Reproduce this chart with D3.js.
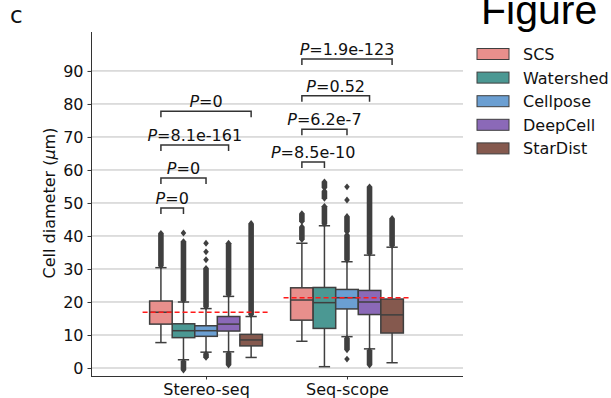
<!DOCTYPE html>
<html>
<head>
<meta charset="utf-8">
<script src="https://cdn.jsdelivr.net/npm/d3@7"></script>
<style>
  body { margin: 0; background: #fff; }
  svg { display: block; font-family: "DejaVu Sans", sans-serif; }
</style>
</head>
<body>
<div id="chart"></div>
<script>
// categories and methods
const datasets = ["Stereo-seq", "Seq-scope"];
const methods = ["SCS", "Watershed", "Cellpose", "DeepCell", "StarDist"];
const colors = ["#e88f8c", "#4b9893", "#6b9fd2", "#8b69b8", "#85594e"];
const yTicks = [0, 10, 20, 30, 40, 50, 60, 70, 80, 90];

// box stats per method: [lowWhisker, q1, median, q3, highWhisker]
const stereoBox = [
  [7.7, 13.3, 16.9, 20.3, 30.4],
  [2.5, 9.2, 11.3, 13.4, 20.0],
  [4.8, 9.6, 11.3, 12.8, 18.0],
  [4.9, 11.2, 13.3, 15.6, 21.7],
  [3.2, 6.7, 8.5, 10.2, 15.6]
];
const seqBox = [
  [8.1, 14.5, 20.6, 24.3, 37.8],
  [0.4, 12.0, 19.8, 24.4, 43.1],
  [9.5, 17.9, 21.3, 23.8, 32.2],
  [5.8, 16.2, 20.0, 23.5, 34.2],
  [1.6, 10.6, 16.1, 20.9, 36.6]
];

// dense runs of outliers [from, to] and single outliers
const stereoRuns = [
  [[30.9, 40.8]],
  [[20.5, 38.3], [-0.6, 2.0]],
  [[18.5, 30.2], [3.2, 4.3]],
  [[22.2, 37.8], [0.9, 4.4]],
  [[16.1, 43.8]]
];
const stereoPoints = [
  [],
  [40.9],
  [32.8, 35.2, 37.8],
  [],
  []
];
const seqRuns = [
  [[38.9, 42.8], [44.4, 46.8]],
  [[43.6, 49.0], [51.4, 53.6], [54.6, 56.4]],
  [[32.7, 40.3], [41.3, 45.9], [5.5, 9.0]],
  [[34.7, 54.9], [0.9, 5.3]],
  [[37.1, 45.3]]
];
const seqPoints = [
  [],
  [],
  [50.9, 54.9, 2.7],
  [],
  []
];
const means = [16.9, 21.3];

// SCS vs others: p-values and bracket heights
const stereoP = ["0", "0", "8.1e-161", "0"];
const stereoLevels = [48.5, 57.6, 67.6, 77.8];
const seqP = ["8.5e-10", "6.2e-7", "0.52", "1.9e-123"];
const seqLevels = [62.4, 72.3, 82.5, 93.6];

const W = 611, H = 398;
const svg = d3.select("#chart").append("svg").attr("width", W).attr("height", H);

const x = d3.scaleLinear().domain([-0.816, 1.823]).range([91, 463]);
const y = d3.scaleLinear().domain([-2.42, 101.8]).range([376, 32]);
const hue = d3.scaleBand().domain(methods).range([-0.4, 0.4]);
const boxW = x(hue.bandwidth()) - x(0);
const hx = (di, m) => x(di + hue(m) + hue.bandwidth() / 2);

const edge = "#3f3f3f";

// grid
svg.append("g").selectAll("line").data(yTicks).join("line")
  .attr("x1", 91).attr("x2", 463)
  .attr("y1", d => y(d)).attr("y2", d => y(d))
  .attr("stroke", "#bdbdbd").attr("stroke-width", 1);

// axes
const yAxis = svg.append("g").attr("transform", "translate(91,0)")
  .call(d3.axisLeft(y).tickValues(yTicks).tickSize(3.5).tickPadding(4));
const xAxis = svg.append("g").attr("transform", "translate(0,376)")
  .call(d3.axisBottom(x).tickValues([0, 1]).tickFormat(i => datasets[i]).tickSize(3.5).tickPadding(4));
[yAxis, xAxis].forEach(a => {
  a.selectAll("text").attr("font-size", 16).attr("font-family", "DejaVu Sans").attr("fill", "#111");
  a.selectAll("line").attr("stroke", "#333");
  a.select(".domain").attr("stroke", "#333").attr("d", null);
});
yAxis.select(".domain").attr("d", "M0.5,32V376");
xAxis.select(".domain").attr("d", "M91,0.5H463");

// y label
svg.append("text")
  .attr("transform", "translate(55,203) rotate(-90)")
  .attr("text-anchor", "middle").attr("font-size", 16).attr("fill", "#111")
  .call(t => {
    t.append("tspan").text("Cell diameter (");
    t.append("tspan").attr("font-style", "italic").text("\u03bc");
    t.append("tspan").text("m)");
  });

// diamond fliers
function runPath(cx, a, b) {
  const hw = 2.8, hh = 3.4;
  const top = y(Math.max(a, b)), bot = y(Math.min(a, b));
  return `M${cx},${top - hh}L${cx + hw},${top}L${cx + hw},${bot}L${cx},${bot + hh}L${cx - hw},${bot}L${cx - hw},${top}Z`;
}

function drawGroup(di, boxes, runs, points) {
  const g = svg.append("g");
  methods.forEach((m, i) => {
    const cx = hx(di, m);
    const [lo, q1, med, q3, hi] = boxes[i];
    // fliers
    runs[i].forEach(r => g.append("path").attr("d", runPath(cx, r[0], r[1])).attr("fill", edge));
    points[i].forEach(p => g.append("path").attr("d", runPath(cx, p, p)).attr("fill", edge));
    // whiskers
    g.append("line").attr("x1", cx).attr("x2", cx).attr("y1", y(q3)).attr("y2", y(hi))
      .attr("stroke", edge).attr("stroke-width", 1.5);
    g.append("line").attr("x1", cx).attr("x2", cx).attr("y1", y(q1)).attr("y2", y(lo))
      .attr("stroke", edge).attr("stroke-width", 1.5);
    [lo, hi].forEach(v => g.append("line")
      .attr("x1", cx - boxW / 4).attr("x2", cx + boxW / 4).attr("y1", y(v)).attr("y2", y(v))
      .attr("stroke", edge).attr("stroke-width", 1.5));
    // box
    g.append("rect").attr("x", cx - boxW / 2).attr("width", boxW)
      .attr("y", y(q3)).attr("height", y(q1) - y(q3))
      .attr("fill", colors[i]).attr("stroke", edge).attr("stroke-width", 1.5);
    g.append("line").attr("x1", cx - boxW / 2).attr("x2", cx + boxW / 2)
      .attr("y1", y(med)).attr("y2", y(med)).attr("stroke", edge).attr("stroke-width", 1.5);
  });
}
drawGroup(0, stereoBox, stereoRuns, stereoPoints);
drawGroup(1, seqBox, seqRuns, seqPoints);

// mean lines
svg.append("g").selectAll("line").data(means).join("line")
  .attr("x1", (d, i) => x(i - 0.45)).attr("x2", (d, i) => x(i + 0.45))
  .attr("y1", d => y(d)).attr("y2", d => y(d))
  .attr("stroke", "#ff1a1a").attr("stroke-width", 1.5).attr("stroke-dasharray", "5,3");

// significance brackets
function drawBrackets(di, pv, levels) {
  const g = svg.append("g");
  pv.forEach((p, k) => {
    const x1 = hx(di, methods[0]), x2 = hx(di, methods[k + 1]);
    const yy = y(levels[k]);
    g.append("path")
      .attr("d", `M${x1},${yy + 6}V${yy}H${x2}V${yy + 6}`)
      .attr("fill", "none").attr("stroke", "#333").attr("stroke-width", 1.5);
    g.append("text").attr("x", (x1 + x2) / 2).attr("y", yy - 4)
      .attr("text-anchor", "middle").attr("font-size", 16).attr("fill", "#111")
      .call(t => {
        t.append("tspan").attr("font-style", "italic").text("P");
        t.append("tspan").text("=" + p);
      });
  });
}
drawBrackets(0, stereoP, stereoLevels);
drawBrackets(1, seqP, seqLevels);

// legend
const leg = svg.append("g").attr("transform", "translate(477,54)");
methods.forEach((m, i) => {
  const row = leg.append("g").attr("transform", `translate(0,${i * 23.6})`);
  row.append("rect").attr("x", 0).attr("y", -5.5).attr("width", 32).attr("height", 11)
    .attr("fill", colors[i]).attr("stroke", edge).attr("stroke-width", 1);
  row.append("text").attr("x", 46).attr("y", 6).attr("font-size", 16).attr("fill", "#111").text(m);
});

// panel label and header
svg.append("text").attr("x", 10).attr("y", 22.5).attr("font-size", 23).attr("fill", "#111").text("c");
svg.append("text").attr("x", 481).attr("y", 24).attr("font-size", 41)
  .attr("font-family", "Liberation Sans, Arial, sans-serif").attr("fill", "#000").text("Figure");
</script>
</body>
</html>
